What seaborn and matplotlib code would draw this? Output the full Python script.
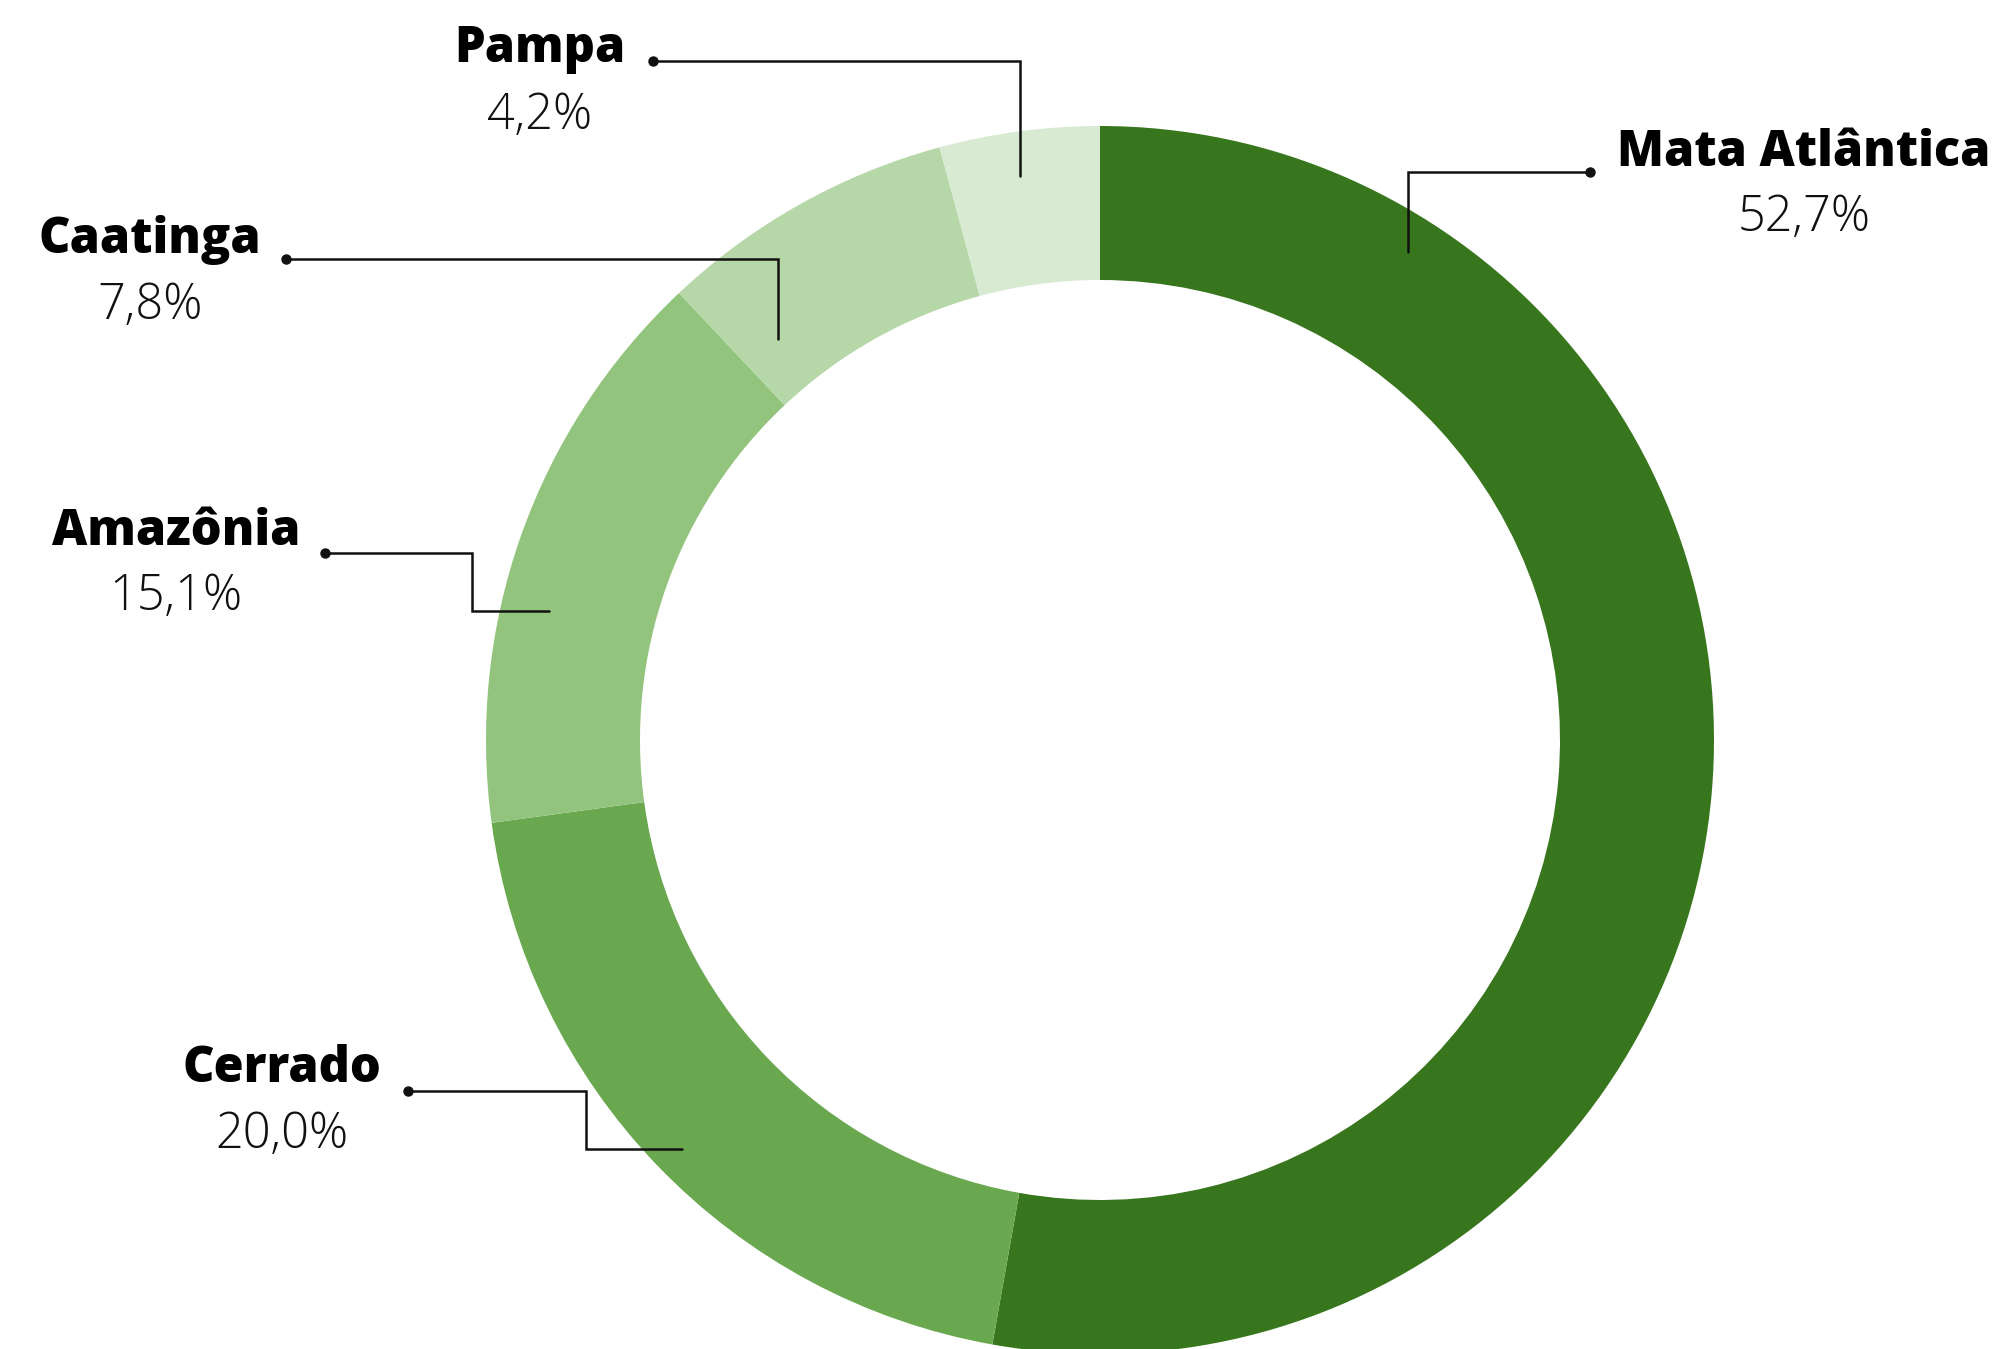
import matplotlib
matplotlib.use("Agg")
import matplotlib.pyplot as plt
import seaborn as sns

# ---- data ----
biomas = ["Mata Atlântica", "Cerrado", "Amazônia", "Caatinga", "Pampa"]
valores = [52.7, 20.0, 15.1, 7.8, 4.2]
rotulos = ["52,7%", "20,0%", "15,1%", "7,8%", "4,2%"]
cores = ["#38761d", "#6aa84f", "#93c47d", "#b6d7a8", "#d9ead3"]

sns.set_theme(style="white")
plt.rcParams["font.family"] = ["Open Sans", "DejaVu Sans"]

W, H = 1999, 1349
fig = plt.figure(figsize=(W / 100, H / 100), dpi=100)
ax = fig.add_axes([0, 0, 1, 1])

def Y(y):  # convert top-down pixel coordinate to axis coordinate
    return H - y

cx, cy, R, ring = 1100, 740, 614, 154
ax.pie(valores, colors=cores, startangle=90, counterclock=False,
       radius=R, center=(cx, Y(cy)),
       wedgeprops=dict(width=ring, linewidth=0, antialiased=True))
ax.set_xlim(0, W)
ax.set_ylim(0, H)
ax.set_aspect("equal")
ax.axis("off")

# label layout: name position, percent position, leader path (top-down px)
layout = {
    "Mata Atlântica": dict(t=(1804, 153), p=(1804, 218),
                           path=[(1590, 172), (1408, 172), (1408, 252)]),
    "Pampa": dict(t=(540, 49), p=(540, 116),
                  path=[(653, 61), (1020, 61), (1020, 176)]),
    "Caatinga": dict(t=(150, 240), p=(150, 306),
                     path=[(286, 259), (778, 259), (778, 339)]),
    "Amazônia": dict(t=(176, 532), p=(176, 597),
                     path=[(325, 553), (472, 553), (472, 611), (549, 611)]),
    "Cerrado": dict(t=(282, 1069), p=(282, 1135),
                    path=[(408, 1091), (586, 1091), (586, 1149), (682, 1149)]),
}

for nome, rot in zip(biomas, rotulos):
    L = layout[nome]
    ax.text(L["t"][0], Y(L["t"][1]), nome, ha="center", va="center",
            fontsize=35, fontweight="heavy", color="#000000")
    ax.text(L["p"][0], Y(L["p"][1]), rot, ha="center", va="center",
            fontsize=35, fontweight="light", color="#111111")
    xs = [p[0] for p in L["path"]]
    ys = [Y(p[1]) for p in L["path"]]
    ax.plot(xs, ys, color="#111111", lw=1.8, solid_joinstyle="miter")
    ax.plot(xs[0], ys[0], "o", color="#111111", ms=6.5)

fig.savefig("out.png", dpi=100, facecolor="white")
